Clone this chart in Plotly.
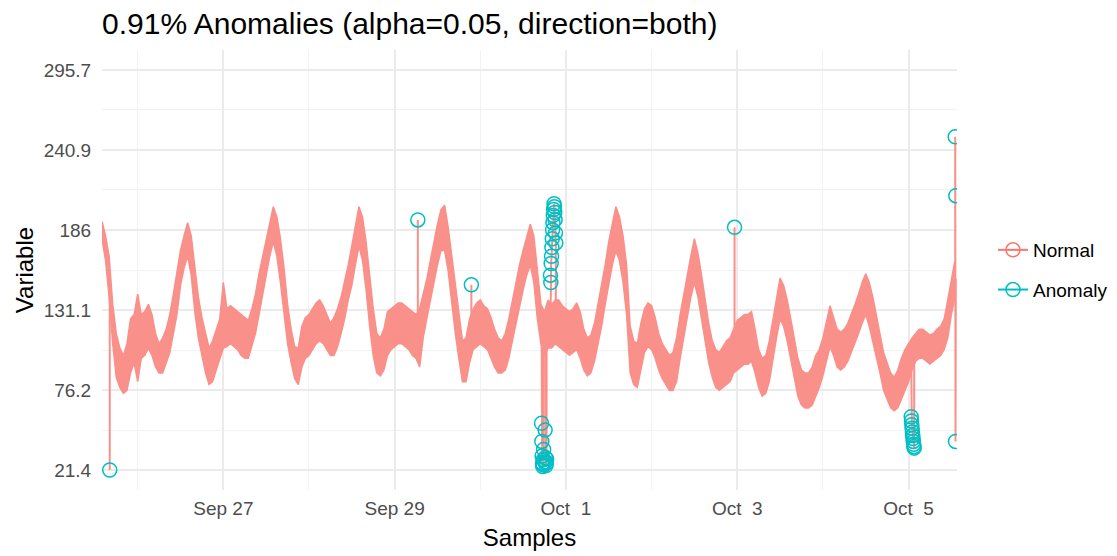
import pandas as pd
import plotly.graph_objects as go

# ---------------- data ----------------
start_time = "2017-09-25 14:00"   # first hourly reading of the noise band

# upper / lower edge of the dense "Normal" band, one reading per hour
band_upper = [
    192, 182, 168, 135, 115, 105, 100, 108, 125, 128, 142, 128, 130, 135, 128, 115, 108, 112, 118, 128, 142, 158, 172, 182,
    191, 182, 160, 140, 126, 115, 105, 110, 118, 125, 150, 132, 134, 132, 130, 128, 126, 124, 132, 142, 156, 168, 180, 192,
    202, 195, 180, 160, 135, 118, 106, 105, 120, 126, 128, 132, 136, 138, 134, 128, 122, 126, 132, 140, 150, 162, 175, 190,
    202, 195, 178, 155, 132, 115, 112, 118, 130, 132, 134, 136, 136, 134, 132, 130, 128, 132, 142, 152, 165, 178, 190, 200,
    203, 188, 168, 148, 126, 110, 112, 125, 132, 136, 138, 134, 132, 126, 118, 112, 110, 115, 125, 138, 150, 162, 172, 182,
    190, 182, 160, 135, 130, 138, 135, 138, 138, 134, 132, 130, 132, 136, 130, 118, 112, 114, 122, 135, 148, 162, 178, 190,
    202, 195, 182, 162, 120, 110, 108, 122, 132, 136, 134, 126, 115, 108, 104, 100, 102, 112, 128, 142, 155, 168, 180, 170,
    155, 138, 122, 110, 104, 102, 106, 110, 112, 118, 124, 126, 128, 128, 130, 118, 104, 98, 100, 110, 125, 140, 153, 148,
    138, 125, 112, 98, 90, 88, 88, 92, 100, 104, 112, 122, 134, 126, 118, 116, 118, 122, 128, 135, 142, 150, 156, 150,
    140, 128, 115, 102, 95, 88, 85, 90, 98, 104, 108, 112, 115, 118, 118, 116, 114, 115, 118, 120, 125, 138, 152, 165,
]
band_lower = [
    180, 165, 140, 108, 85, 78, 74, 76, 88, 95, 82, 98, 100, 105, 100, 92, 88, 88, 95, 102, 115, 128, 148, 160,
    168, 155, 130, 112, 100, 88, 80, 82, 90, 98, 105, 106, 108, 106, 104, 100, 98, 98, 106, 115, 128, 142, 155, 168,
    178, 168, 150, 128, 108, 95, 84, 80, 92, 98, 100, 104, 108, 110, 108, 104, 100, 100, 106, 115, 125, 138, 148, 162,
    175, 165, 145, 120, 100, 88, 86, 90, 100, 104, 106, 108, 108, 106, 104, 100, 98, 92, 112, 125, 138, 150, 162, 172,
    172, 158, 135, 115, 98, 82, 82, 95, 104, 106, 108, 106, 104, 98, 92, 88, 88, 90, 98, 110, 122, 135, 145, 155,
    162, 150, 125, 108, 100, 105, 105, 108, 106, 104, 102, 100, 102, 104, 98, 90, 86, 88, 96, 108, 120, 135, 150, 162,
    172, 165, 150, 128, 88, 80, 78, 90, 102, 106, 104, 98, 90, 84, 80, 76, 76, 82, 98, 112, 128, 140, 150, 140,
    125, 110, 95, 85, 78, 76, 78, 80, 82, 88, 90, 92, 94, 94, 96, 88, 78, 72, 74, 82, 98, 112, 125, 120,
    110, 98, 86, 72, 66, 64, 64, 66, 72, 78, 86, 96, 106, 100, 92, 90, 92, 96, 102, 108, 115, 122, 128, 120,
    110, 98, 88, 76, 70, 64, 62, 64, 70, 76, 82, 90, 96, 98, 98, 96, 94, 96, 98, 100, 104, 112, 128, 140,
]

anomaly_times = [
    "2017-09-25 16:10",
    "2017-09-29 06:30",
    "2017-09-29 21:30",
    "2017-09-30 17:10", "2017-09-30 17:15", "2017-09-30 17:20", "2017-09-30 17:25",
    "2017-09-30 17:30", "2017-09-30 17:35", "2017-09-30 17:40", "2017-09-30 17:45",
    "2017-09-30 18:10", "2017-09-30 18:15", "2017-09-30 18:20", "2017-09-30 18:25",
    "2017-09-30 18:30", "2017-09-30 18:35",
    "2017-09-30 19:40", "2017-09-30 19:46", "2017-09-30 19:52", "2017-09-30 19:58",
    "2017-09-30 20:04", "2017-09-30 20:10", "2017-09-30 20:16", "2017-09-30 20:22",
    "2017-09-30 20:28", "2017-09-30 20:34", "2017-09-30 20:40", "2017-09-30 20:46",
    "2017-09-30 20:52", "2017-09-30 20:58", "2017-09-30 21:04", "2017-09-30 21:10",
    "2017-10-02 23:15",
    "2017-10-05 00:45", "2017-10-05 00:50", "2017-10-05 00:55", "2017-10-05 01:00",
    "2017-10-05 01:05", "2017-10-05 01:10", "2017-10-05 01:15", "2017-10-05 01:20",
    "2017-10-05 01:25", "2017-10-05 01:30", "2017-10-05 01:35",
    "2017-10-05 13:05", "2017-10-05 13:10", "2017-10-05 13:15",
]
anomaly_values = [
    21.4,
    192.9,
    148.4,
    53.5, 41.0, 31.0, 26.0,
    23.8, 25.0, 28.5, 35.5,
    48.8, 30.0, 27.0, 24.5,
    26.0, 29.0,
    155.0, 150.0, 163.0, 168.0,
    174.0, 180.0, 186.0, 191.0,
    196.0, 200.0, 204.0, 202.0,
    198.0, 193.0, 184.0, 177.0,
    187.8,
    57.9, 55.0, 52.5, 50.0,
    47.5, 45.0, 43.0, 41.0,
    39.0, 37.5, 36.4,
    249.9, 41.0, 209.5,
]

y_tick_values = [21.4, 76.2, 131.1, 186.0, 240.9, 295.7]
y_tick_labels = ["21.4", "76.2", "131.1", "186", "240.9", "295.7"]
x_tick_values = ["2017-09-27", "2017-09-29", "2017-10-01", "2017-10-03", "2017-10-05"]
x_tick_labels = ["Sep 27", "Sep 29", "Oct\u00a0\u00a01", "Oct\u00a0\u00a03", "Oct\u00a0\u00a05"]
x_minor_values = ["2017-09-26", "2017-09-28", "2017-09-30", "2017-10-02", "2017-10-04"]
x_end = "2017-10-05 13:35"

# ---------------- build series ----------------
times = pd.date_range(start_time, periods=len(band_upper), freq="h")
band = pd.DataFrame({"t": times, "up": band_upper, "lo": band_lower})
band["mid"] = (band["up"] + band["lo"]) / 2
anom = pd.DataFrame({"t": pd.to_datetime(anomaly_times), "v": anomaly_values}).sort_values("t")

# spike lines: each run of anomalies is joined to the band (nearest hourly reading)
anom["grp"] = (anom["t"].diff() > pd.Timedelta(minutes=20)).cumsum()
spike_x, spike_y = [], []
for _, g in anom.groupby("grp"):
    i0 = int(((band["t"] - g["t"].iloc[0]).abs()).idxmin())
    i1 = int(((band["t"] - g["t"].iloc[-1]).abs()).idxmin())
    spike_x += [g["t"].iloc[0]] + list(g["t"]) + [g["t"].iloc[-1], None]
    spike_y += [band["mid"][i0]] + list(g["v"]) + [band["mid"][i1], None]

y_minor = [(a + b) / 2 for a, b in zip(y_tick_values[:-1], y_tick_values[1:])]

NORMAL = "#F8766D"
BAND = "#F9908A"
ANOM = "#00BFC4"
FONT = "Liberation Sans, Arial, Helvetica, sans-serif"

fig = go.Figure()
fig.add_trace(go.Scatter(
    x=band["t"], y=band["lo"], mode="lines",
    line=dict(color=BAND, width=1.5), showlegend=False, hoverinfo="skip",
))
fig.add_trace(go.Scatter(
    x=band["t"], y=band["up"], mode="lines", fill="tonexty", fillcolor=BAND,
    line=dict(color=BAND, width=1.5), showlegend=False, hoverinfo="skip",
))
fig.add_trace(go.Scatter(
    x=spike_x, y=spike_y, mode="lines", connectgaps=False,
    line=dict(color=BAND, width=2), showlegend=False, hoverinfo="skip",
))
fig.add_trace(go.Scatter(
    x=anom["t"], y=anom["v"], mode="markers",
    marker=dict(symbol="circle-open", size=14, color=ANOM, line=dict(width=1.5, color=ANOM)),
    showlegend=False,
))
# legend entries
fig.add_trace(go.Scatter(
    x=[None], y=[None], mode="lines+markers", name="Normal", legendgroup="n",
    line=dict(color=NORMAL, width=2),
    marker=dict(symbol="circle-open", size=14, color=NORMAL, line=dict(width=1.5, color=NORMAL)),
))
fig.add_trace(go.Scatter(
    x=[None], y=[None], mode="lines+markers", name="Anomaly", legendgroup="a",
    line=dict(color=ANOM, width=2),
    marker=dict(symbol="circle-open", size=14, color=ANOM, line=dict(width=1.5, color=ANOM)),
))

# the page body has an 8px margin; the figure is made a little wider than the
# window so the legend never forces the plot area to shrink
fig.update_layout(
    width=1140, height=556,
    margin=dict(l=94, r=191, t=42, b=74),
    paper_bgcolor="white", plot_bgcolor="white",
    font=dict(family=FONT, color="black"),
    title=dict(text="0.91% Anomalies (alpha=0.05, direction=both)",
               x=0, xref="paper", xanchor="left",
               y=1 - 15 / 556, yref="container", yanchor="middle",
               font=dict(size=30, color="black", family=FONT)),
    legend=dict(x=1.0421, xanchor="left", y=0.5, yanchor="middle",
                font=dict(size=19, color="black", family=FONT),
                tracegroupgap=12, traceorder="grouped", itemwidth=30),
    xaxis=dict(
        range=[times[0], x_end], type="date",
        tickvals=x_tick_values, ticktext=x_tick_labels,
        tickfont=dict(size=19, color="#4D4D4D", family=FONT),
        ticks="outside", ticklen=1, tickcolor="rgba(0,0,0,0)",
        showgrid=True, gridcolor="#EBEBEB", gridwidth=1.6,
        minor=dict(tickvals=x_minor_values, showgrid=True, gridcolor="#F2F2F2", gridwidth=0.8, ticks=""),
        zeroline=False, showline=False,
        title=dict(text="Samples", font=dict(size=24, color="black", family=FONT), standoff=11),
    ),
    yaxis=dict(
        range=[7.7, 309.4],
        tickvals=y_tick_values, ticktext=y_tick_labels,
        tickfont=dict(size=19, color="#4D4D4D", family=FONT),
        ticks="outside", ticklen=6, tickcolor="rgba(0,0,0,0)",
        showgrid=True, gridcolor="#EBEBEB", gridwidth=1.6,
        minor=dict(tickvals=y_minor, showgrid=True, gridcolor="#F2F2F2", gridwidth=0.8, ticks=""),
        zeroline=False, showline=False,
        title=dict(text="Variable", font=dict(size=24, color="black", family=FONT), standoff=3),
    ),
)

fig.write_html("out.html")
